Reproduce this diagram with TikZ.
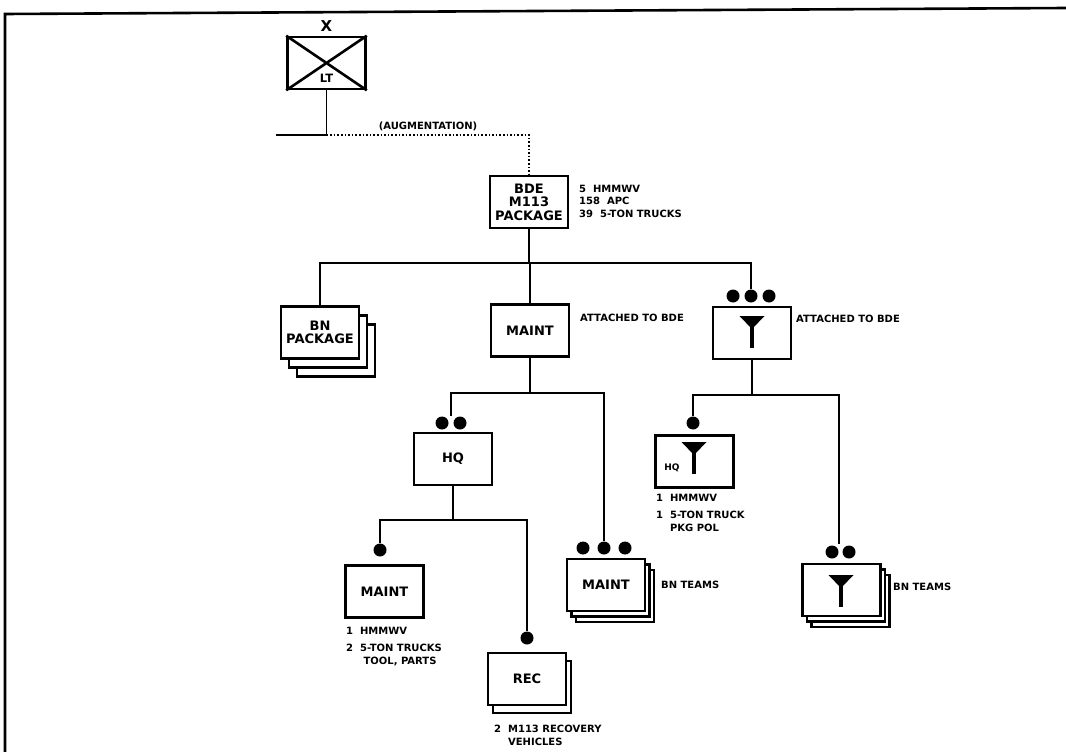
\documentclass[tikz,border=0pt]{standalone}
\usepackage{fontspec}
\setmainfont{DejaVu Sans}
\usetikzlibrary{
        positioning,
        shadows
    }
\tikzset{
    unit/.style={draw,line width=2.6pt,fill=white,minimum width=78pt,minimum height=52pt,
        inner sep=1pt,align=center,font=\bfseries\fontsize{13}{13.5}\selectfont},
    stack/.style={unit,
        copy shadow={shadow xshift=9pt,shadow yshift=-11pt,line width=2.4pt},
        copy shadow={shadow xshift=4.5pt,shadow yshift=-5.5pt,line width=2.4pt}},
    bigstack/.style={unit,
        copy shadow={shadow xshift=16pt,shadow yshift=-18pt,line width=2.4pt},
        copy shadow={shadow xshift=8pt,shadow yshift=-9pt,line width=2.4pt}},
    pairstack/.style={unit,
        copy shadow={shadow xshift=5pt,shadow yshift=-8pt,line width=2.4pt}},
    dot/.style={circle,fill,inner sep=0pt,minimum size=13pt},
    note/.style={font=\bfseries\fontsize{10}{12.5}\selectfont,align=left,inner sep=0pt},
    funnel/.pic={
        \fill (-12.5,0) -- (12.5,0) -- (0,13) -- cycle;
        \fill (-2.2,8) rectangle (2.2,32);
    }
}

\begin{document}
\begin{tikzpicture}[x=1pt,y=-1pt,link/.style={line width=1.7pt},
                    aug/.style={line width=1.6pt,dotted}]
  \useasboundingbox (0,0) rectangle (1066,752);
  \draw[line width=2.6pt] (5,752) -- (5,14) -- (1066,8);

  \node[unit] (lt) at (326.5,63) {};
  \draw[line width=2.6pt] (lt.north west) -- (lt.south east) (lt.north east) -- (lt.south west);
  \node[font=\bfseries\fontsize{15}{15}\selectfont] (ltx) at (326.5,26) {X};
  \node[font=\bfseries\fontsize{11.5}{12}\selectfont] (ltname) at (326.5,78) {LT};
  \coordinate (augknee) at (326.5,135);
  \coordinate (augend) at (276,135);
  \node[note] (augtext) at (428,126) {(AUGMENTATION)};

  \node[unit] (bde) at (529,202) {BDE\\M113\\PACKAGE};
  \node[note,anchor=west] (bdeinfo) at (579,201) {5\ \ HMMWV\\158\ \ APC\\39\ \ 5-TON TRUCKS};

  \node[bigstack] (bnpkg) at (320,332.5) {BN\\PACKAGE};
  \node[unit] (maint) at (530,330.5) {MAINT};
  \node[note,anchor=west] (maintatt) at (580,318) {ATTACHED TO BDE};
  \node[unit] (supply) at (752,333) {};
  \pic at (752,316) {funnel};
  \node[note,anchor=west] (supplyatt) at (796,319) {ATTACHED TO BDE};
  \node[dot] (sd1) at (733,296) {};
  \node[dot] (sd2) at (751,296) {};
  \node[dot] (sd3) at (769,296) {};

  \node[unit] (hq) at (453,459) {HQ};
  \node[dot] (hqd1) at (442,423) {};
  \node[dot] (hqd2) at (460,423) {};
  \coordinate (hqtop) at (451,416);

  \node[stack] (mteam) at (606,585) {MAINT};
  \node[note,anchor=west] (mteamtxt) at (661,585) {BN TEAMS};
  \node[dot] (md1) at (583,548) {};
  \node[dot] (md2) at (604,548) {};
  \node[dot] (md3) at (625,548) {};

  \node[unit] (maintsec) at (384.5,591.5) {MAINT};
  \node[dot] (msd) at (380,550) {};
  \node[note,anchor=north west] (maintsectxt) at (346,627)
      {1\ \ HMMWV\\[5pt]2\ \ 5-TON TRUCKS\\\phantom{2\ \ \ }TOOL, PARTS};

  \node[pairstack] (rec) at (527,679) {REC};
  \node[dot] (recd) at (527,638) {};
  \node[note,anchor=north west] (rectxt) at (494,725) {2\ \ M113 RECOVERY\\\phantom{2\ \ }VEHICLES};

  \node[unit] (hqsupply) at (694.5,461.5) {};
  \pic at (694,442) {funnel};
  \node[font=\bfseries\fontsize{9}{9}\selectfont] (hqsuplbl) at (672,468) {HQ};
  \node[dot] (hsd) at (693,423) {};
  \node[note,anchor=north west] (hqsuptxt) at (656,494)
      {1\ \ HMMWV\\[5pt]1\ \ 5-TON TRUCK\\\phantom{1\ \ }PKG POL};

  \node[stack] (steam) at (841.5,590) {};
  \pic at (841,575) {funnel};
  \node[note,anchor=west] (steamtxt) at (893,587) {BN TEAMS};
  \node[dot] (sdd1) at (832,552) {};
  \node[dot] (sdd2) at (849,552) {};
  \coordinate (steamtop) at (839,544);

  \coordinate (busa) at (529,263);
  \coordinate (busb) at (530,393);
  \coordinate (busc) at (752,395);
  \coordinate (busd) at (453,520);

  \draw[link] (lt.south) -- (augknee) -- (augend);
  \draw[aug] (augknee) -| (bde.north);
  \draw[link] (bde.south) -- (busa) -- (busa -| maint.north) -- (maint.north);
  \draw[link] (bnpkg.north) |- (busa) -| (sd2);
  \draw[link] (maint.south) -- (busb);
  \draw[link] (hqtop) |- (busb) -| (md2);
  \draw[link] (supply.south) -- (busc);
  \draw[link] (hsd) |- (busc) -| (steamtop);
  \draw[link] (hq.south) -- (busd);
  \draw[link] (msd) |- (busd) -| (recd);
\end{tikzpicture}
\end{document}
